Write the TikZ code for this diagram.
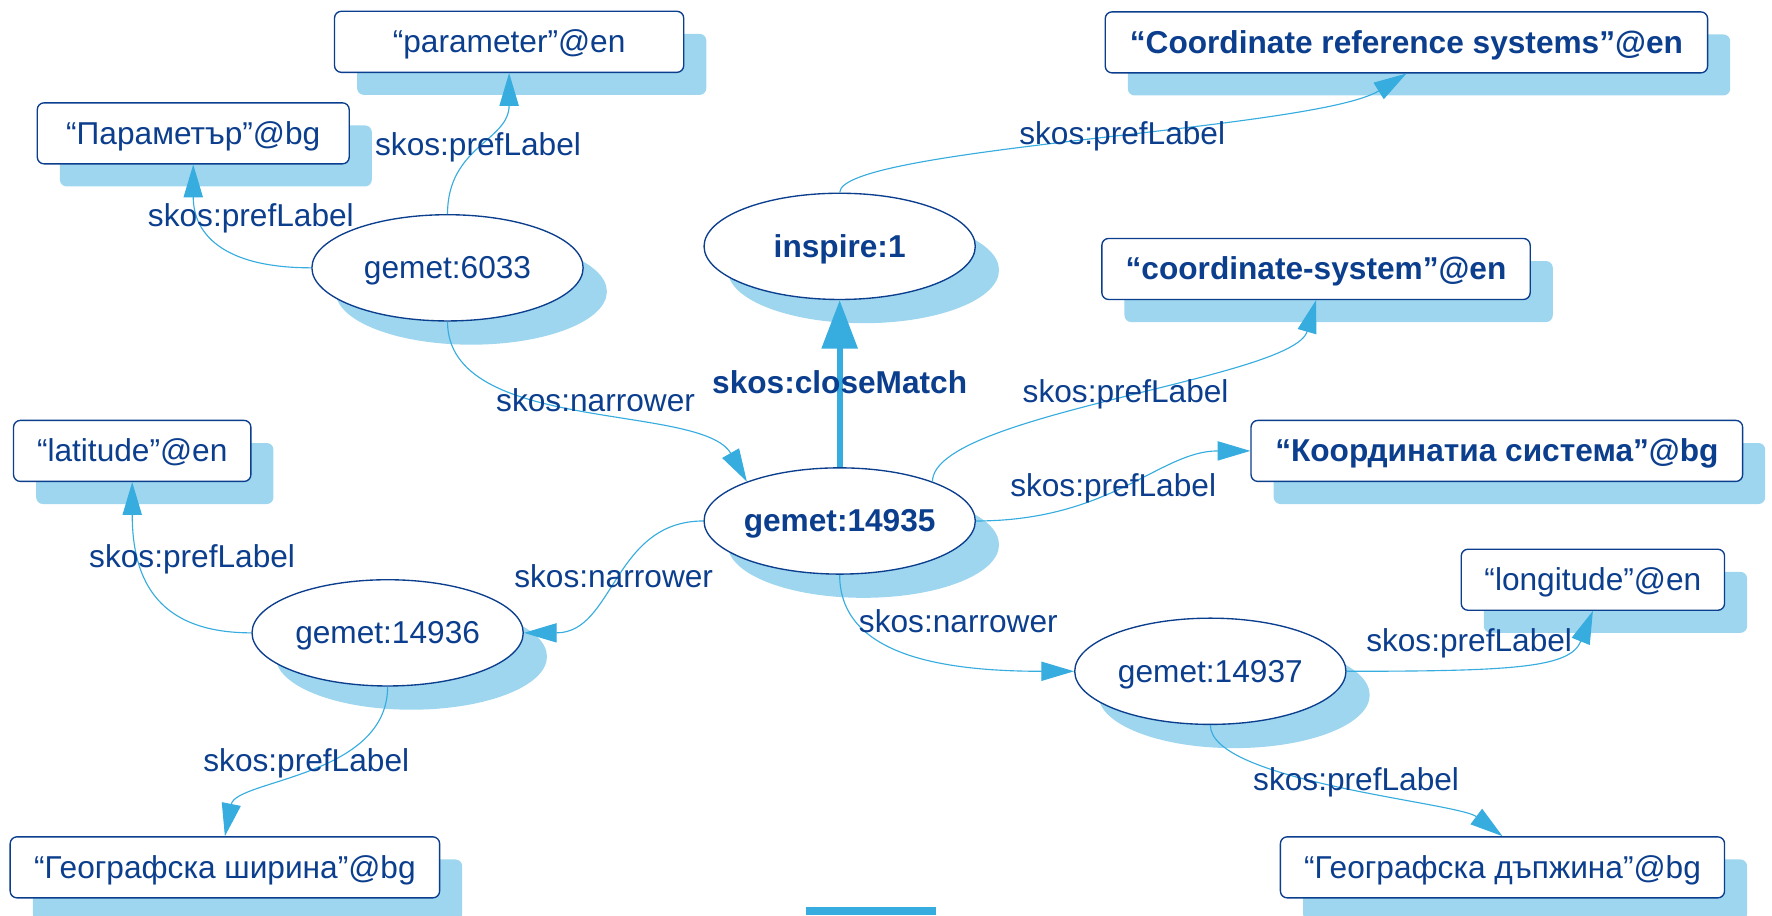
\documentclass[tikz,border=0pt]{standalone}
\usepackage{fontspec}
\setmainfont{Liberation Sans}
\usepackage{xcolor}
\usepackage{tikz}
\definecolor{navyblue}{RGB}{12, 62, 142}
\definecolor{linkblue}{RGB}{54, 172, 223}
\definecolor{shadowblue}{RGB}{157, 214, 238}
\usetikzlibrary{shapes.geometric, arrows.meta, shadows}

\begin{document}
\begin{tikzpicture}[
    x=0.5pt, y=0.5pt,
    font=\fontsize{14pt}{16pt}\selectfont,
    conceptnode/.style={ellipse, draw=navyblue, fill=white, line width=0.6pt,
                    minimum width=120pt, minimum height=47pt, inner sep=0pt,
                    text=navyblue, text height=10pt, text depth=0.5pt,
                    drop shadow={shadow xshift=10.5pt, shadow yshift=-10.5pt,
                                 fill=shadowblue, opacity=1}},
    litbox/.style={rectangle, draw=navyblue, fill=white, line width=0.6pt,
                   rounded corners=3pt, minimum height=27pt, inner sep=0pt,
                   text=navyblue, text height=10pt, text depth=0.5pt,
                   drop shadow={shadow xshift=10pt, shadow yshift=-10pt,
                                fill=shadowblue, opacity=1}},
    strong/.style={font=\fontsize{14pt}{16pt}\selectfont\bfseries},
    linkarrow/.style={draw=linkblue, line width=0.5pt,
                      -{Triangle[length=14.5pt, width=8.5pt]}},
    edgelabel/.style={text=navyblue, inner sep=0pt, text height=10pt, text depth=0.5pt}
]
    \useasboundingbox (0,0) rectangle (1568,810);

    % concepts
    \node[conceptnode] (g6033) at (396,573) {gemet:6033};
    \node[conceptnode, strong] (inspire) at (743,592) {inspire:1};
    \node[conceptnode, strong] (g14935) at (743,349) {gemet:14935};
    \node[conceptnode] (g14936) at (343,250) {gemet:14936};
    \node[conceptnode] (g14937) at (1071,216) {gemet:14937};

    % literals
    \node[litbox, minimum width=154.5pt] (enparam) at (450.5,773) {“parameter”@en};
    \node[litbox, minimum width=138pt] (bgparam) at (171,692) {“Параметър”@bg};
    \node[litbox, strong, minimum width=266.5pt] (encrs) at (1244.5,772.5) {“Coordinate reference systems”@en};
    \node[litbox, strong, minimum width=189.5pt] (encs) at (1164.5,572) {“coordinate-system”@en};
    \node[litbox, strong, minimum width=217.5pt] (bgcs) at (1324.5,411) {“Координатиа система”@bg};
    \node[litbox, minimum width=105pt] (enlat) at (117,411) {“latitude”@en};
    \node[litbox, minimum width=116.5pt] (enlon) at (1409.5,297) {“longitude”@en};
    \node[litbox, minimum width=190pt] (bglat) at (199,42.5) {“Географска ширина”@bg};
    \node[litbox, minimum width=196.5pt] (bglon) at (1329.5,42.5) {“Географска дъпжина”@bg};

    \fill[linkblue] (713,0) rectangle (828,7);

    % links
    \draw[linkarrow] (g6033.north) .. controls +(0,60) and +(0,-60) .. (enparam.south);
    \draw[linkarrow] (g6033.west) .. controls +(-80,0) and +(0,-60) .. (bgparam.south);
    \draw[linkarrow] (g6033.south) .. controls +(0,-100) and +(-40,70) .. (g14935.157);
    \draw[linkarrow] (inspire.north) .. controls +(0,40) and +(-80,-50) .. (encrs.south);
    \draw[linkarrow] (g14935.23) .. controls +(0,60) and +(-20,-70) .. (encs.south);
    \draw[linkarrow] (g14935.east) .. controls +(120,0) and +(-80,0) .. (bgcs.west);
    \draw[linkarrow] (g14935.west) .. controls +(-80,0) and +(80,0) .. (g14936.east);
    \draw[linkarrow] (g14935.south) .. controls +(0,-70) and +(-120,0) .. (g14937.west);
    \draw[linkarrow] (g14936.west) .. controls +(-80,0) and +(0,-90) .. (enlat.south);
    \draw[linkarrow] (g14936.south) .. controls +(0,-80) and +(10,50) .. (bglat.north);
    \draw[linkarrow] (g14937.east) .. controls +(150,0) and +(-20,-50) .. (enlon.south);
    \draw[linkarrow] (g14937.south) .. controls +(0,-50) and +(-40,30) .. (bglon.north);
    \draw[draw=linkblue, line width=2.7pt, -{Triangle[length=21.5pt, width=15.5pt]}]
        (g14935.north) -- (inspire.south);

    % link labels
    \node[edgelabel] (lparamen) at (423,682) {skos:prefLabel};
    \node[edgelabel] (lparambg) at (222,619) {skos:prefLabel};
    \node[edgelabel] (lnarrow1) at (527,455) {skos:narrower};
    \node[edgelabel, strong] (lclose) at (743,471) {skos:closeMatch};
    \node[edgelabel] (lcrs) at (993,692) {skos:prefLabel};
    \node[edgelabel] (lcsen) at (996,463) {skos:prefLabel};
    \node[edgelabel] (lcsbg) at (985,380) {skos:prefLabel};
    \node[edgelabel] (lnarrow2) at (543,300) {skos:narrower};
    \node[edgelabel] (lnarrow3) at (848,260) {skos:narrower};
    \node[edgelabel] (llaten) at (170,317) {skos:prefLabel};
    \node[edgelabel] (llatbg) at (271,137) {skos:prefLabel};
    \node[edgelabel] (llonen) at (1300,243) {skos:prefLabel};
    \node[edgelabel] (llonbg) at (1200,120) {skos:prefLabel};
\end{tikzpicture}
\end{document}
